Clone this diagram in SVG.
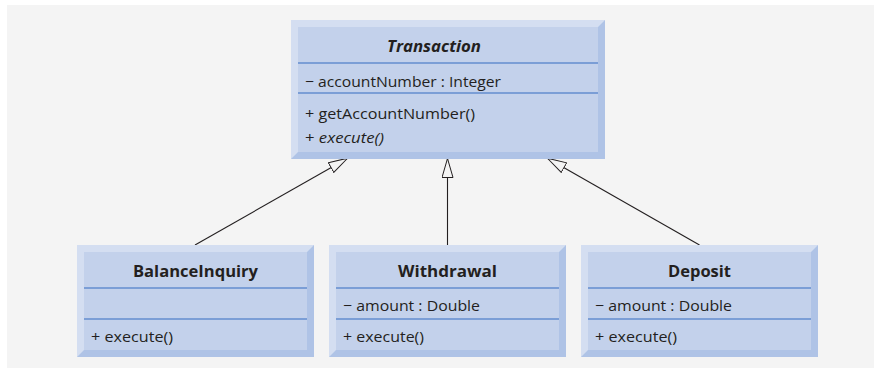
<svg xmlns="http://www.w3.org/2000/svg" width="874" height="368" viewBox="0 0 874 368">
<style>
.dark{fill:#afc3e6}
.light{fill:#d4def1}
.face{fill:#c3d1eb}
.div{stroke:#7b9ed6;stroke-width:2}
.t{font-family:"Open Sans","Noto Sans",sans-serif;font-size:15px;fill:#231f20}
.b{font-weight:bold;text-anchor:middle;font-size:16px}
.conn{stroke:#231f20;stroke-width:1.1;fill:none}
</style>
<defs>
<marker id="inh" viewBox="0 0 20 12" refX="20" refY="6" markerWidth="20" markerHeight="12" markerUnits="userSpaceOnUse" orient="auto">
<path d="M0.5,0.5 L19.5,6 L0.5,11.5 Z" fill="#f4f4f4" stroke="#231f20" stroke-width="1"/>
</marker>
</defs>
<rect x="7" y="5" width="867" height="363" fill="#f4f4f4"/>
<g id="connectors">
<line class="conn" x1="195" y1="245" x2="348" y2="158" marker-end="url(#inh)"/>
<line class="conn" x1="447.5" y1="245" x2="447.5" y2="158" marker-end="url(#inh)"/>
<line class="conn" x1="699.5" y1="245" x2="547" y2="158" marker-end="url(#inh)"/>
</g>
<g id="Transaction">
<rect class="dark" x="291" y="20" width="314" height="139"/>
<polygon class="light" points="291,20 605,20 598,27 298,27 298,152 291,159"/>
<rect class="face" x="298" y="27" width="300" height="125"/>
<line class="div" x1="298" y1="63" x2="598" y2="63"/>
<line class="div" x1="298" y1="93" x2="598" y2="93"/>
<text class="t b" x="434" y="52" font-style="italic" textLength="94" lengthAdjust="spacingAndGlyphs">Transaction</text>
<text class="t" x="305" y="87" textLength="196" lengthAdjust="spacingAndGlyphs">− accountNumber : Integer</text>
<text class="t" x="305" y="119" textLength="170" lengthAdjust="spacingAndGlyphs">+ getAccountNumber()</text>
<text class="t" x="305" y="143" textLength="79" lengthAdjust="spacingAndGlyphs">+ <tspan font-style="italic">execute()</tspan></text>
</g>
<g id="BalanceInquiry">
<rect class="dark" x="77" y="245" width="237" height="112"/>
<polygon class="light" points="77,245 314,245 307,252 84,252 84,350 77,357"/>
<rect class="face" x="84" y="252" width="223" height="98"/>
<line class="div" x1="84" y1="288" x2="307" y2="288"/>
<line class="div" x1="84" y1="319" x2="307" y2="319"/>
<text class="t b" x="195.5" y="277" textLength="125" lengthAdjust="spacingAndGlyphs">BalanceInquiry</text>
<text class="t" x="91" y="342" textLength="82" lengthAdjust="spacingAndGlyphs">+ execute()</text>
</g>
<g id="Withdrawal">
<rect class="dark" x="329" y="245" width="237" height="112"/>
<polygon class="light" points="329,245 566,245 559,252 336,252 336,350 329,357"/>
<rect class="face" x="336" y="252" width="223" height="98"/>
<line class="div" x1="336" y1="288" x2="559" y2="288"/>
<line class="div" x1="336" y1="319" x2="559" y2="319"/>
<text class="t b" x="447.5" y="277" textLength="99" lengthAdjust="spacingAndGlyphs">Withdrawal</text>
<text class="t" x="343" y="311" textLength="137" lengthAdjust="spacingAndGlyphs">− amount : Double</text>
<text class="t" x="343" y="342" textLength="81" lengthAdjust="spacingAndGlyphs">+ execute()</text>
</g>
<g id="Deposit">
<rect class="dark" x="581" y="245" width="237" height="112"/>
<polygon class="light" points="581,245 818,245 811,252 588,252 588,350 581,357"/>
<rect class="face" x="588" y="252" width="223" height="98"/>
<line class="div" x1="588" y1="288" x2="811" y2="288"/>
<line class="div" x1="588" y1="319" x2="811" y2="319"/>
<text class="t b" x="699.5" y="277" textLength="63" lengthAdjust="spacingAndGlyphs">Deposit</text>
<text class="t" x="595" y="311" textLength="137" lengthAdjust="spacingAndGlyphs">− amount : Double</text>
<text class="t" x="595" y="342" textLength="82" lengthAdjust="spacingAndGlyphs">+ execute()</text>
</g>
</svg>
